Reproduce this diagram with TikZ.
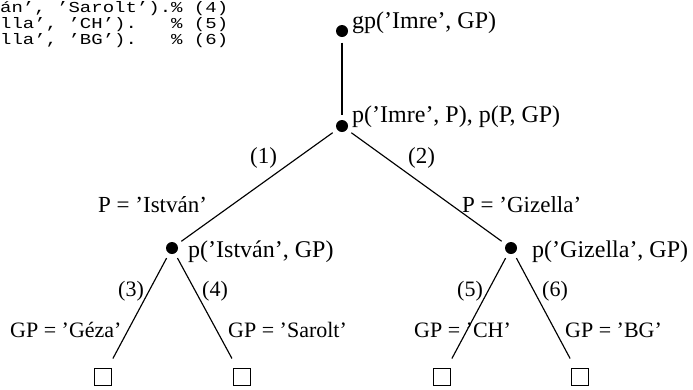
\documentclass[tikz,border=0pt]{standalone}
\usepackage{fontspec}
\usepackage{graphicx}
\setmainfont{Liberation Serif}
\setmonofont{Liberation Mono}
\newcommand{\squashline}[1]{\scalebox{1}[0.8]{#1}}
\begin{document}
\begin{tikzpicture}[x=1pt,y=-1pt,
  dot/.style={circle,fill=black,inner sep=0pt,minimum size=12pt,outer sep=5.5pt},
  leaf/.style={draw,line width=0.9pt,inner sep=0pt,minimum size=17pt,outer sep=10pt},
  edgeline/.style={line width=1.15pt},
  nlab/.style={inner sep=0pt,anchor=base west,font=\fontsize{24}{28}\selectfont},
  elab/.style={inner sep=0pt,anchor=base west,font=\fontsize{23}{27}\selectfont},
  blab/.style={inner sep=0pt,anchor=base west,font=\fontsize{22}{26}\selectfont},
  codeline/.style={inner sep=0pt,anchor=base west,font=\fontsize{19}{16}\ttfamily\selectfont}]
\useasboundingbox (0,0) rectangle (693,389);
% code listing (cut at the left edge)
\node[codeline] (c1) at (0,12) {\squashline{án’, ’Sarolt’).\% (4)}};
\node[codeline] (c2) at (0,28) {\squashline{lla’, ’CH’).\ \ \ \% (5)}};
\node[codeline] (c3) at (0,44) {\squashline{lla’, ’BG’).\ \ \ \% (6)}};
% tree nodes
\node[dot] (gp) at (342,31) {};
\node[dot] (p) at (342,126) {};
\node[dot] (l) at (172,248) {};
\node[dot] (r) at (511,248) {};
\node[leaf] (s1) at (103,377) {};
\node[leaf] (s2) at (242,377) {};
\node[leaf] (s3) at (442,377) {};
\node[leaf] (s4) at (580,377) {};
% node labels
\node[nlab] (tgp) at (352,28) {gp(’Imre’, GP)};
\node[nlab] (tp) at (352,122) {p(’Imre’, P), p(P, GP)};
\node[nlab] (tl) at (188,257) {p(’István’, GP)};
\node[nlab] (tr) at (532,257) {p(’Gizella’, GP)};
% connectors
\draw[edgeline] (gp) -- (p);
\draw[edgeline] (p) -- (l);
\draw[edgeline] (p) -- (r);
\draw[edgeline] (l) -- (s1);
\draw[edgeline] (l) -- (s2);
\draw[edgeline] (r) -- (s3);
\draw[edgeline] (r) -- (s4);
% edge labels
\node[elab] (e1) at (250,163) {(1)};
\node[elab] (e1b) at (98,212) {P = ’István’};
\node[elab] (e2) at (408,163) {(2)};
\node[elab] (e2b) at (462,212) {P = ’Gizella’};
\node[blab] (e3) at (118,296) {(3)};
\node[blab] (e3b) at (10,337) {GP = ’Géza’};
\node[blab] (e4) at (202,296) {(4)};
\node[blab] (e4b) at (228,337) {GP = ’Sarolt’};
\node[blab] (e5) at (457,296) {(5)};
\node[blab] (e5b) at (414,337) {GP = ’CH’};
\node[blab] (e6) at (542,296) {(6)};
\node[blab] (e6b) at (565,337) {GP = ’BG’};
\end{tikzpicture}
\end{document}
